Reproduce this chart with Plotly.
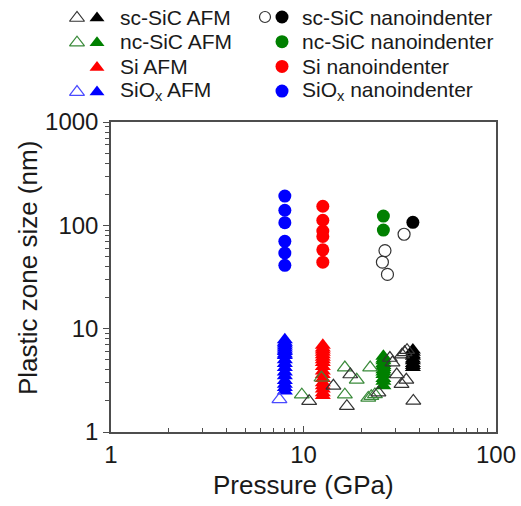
import plotly.graph_objects as go

# ---------------- data (Pressure in GPa, plastic zone size in nm) ----------------
# nanoindenter (circles)
sc_nano_open_x = [33.3, 26.5, 25.7, 27.3]
sc_nano_open_y = [82, 57, 44, 33.5]
sc_nano_fill_x = [37.0]
sc_nano_fill_y = [107]
nc_nano_x = [26.0, 26.0]
nc_nano_y = [123, 90]
si_nano_x = [12.6, 12.6, 12.6, 12.6, 12.6, 12.6]
si_nano_y = [153, 112, 88, 78, 58, 44]
siox_nano_x = [8.0, 8.0, 8.0, 8.0, 8.0, 8.0]
siox_nano_y = [192, 140, 106, 70, 54, 41]

# AFM filled triangles
siox_afm_fill_y = [7.8, 7.4, 7.1, 6.8, 6.5, 6.2, 6.0, 5.7, 5.5, 5.0, 4.6, 4.2, 3.8, 3.5, 3.15, 2.9, 2.7, 2.5]
siox_afm_fill_x = [8.0] * len(siox_afm_fill_y)
si_afm_fill_y = [6.9, 6.5, 6.2, 5.9, 5.6, 5.3, 5.0, 4.7, 4.3, 3.9, 3.6, 3.3, 3.0, 2.8, 2.6, 2.4, 2.25]
si_afm_fill_x = [12.6] * len(si_afm_fill_y)
nc_afm_fill_y = [5.4, 5.1, 4.9, 4.6, 4.4, 4.2, 4.0, 3.8, 3.6, 3.3, 3.1, 2.8]
nc_afm_fill_x = [26.0] * len(nc_afm_fill_y)
sc_afm_fill_y = [6.2, 5.9, 5.6, 5.4, 5.1, 4.9, 4.6, 4.4, 4.2]
sc_afm_fill_x = [37.0] * len(sc_afm_fill_y)

# AFM open triangles
sc_afm_open_x = [32.5, 33.5, 34.5, 10.7, 14.3, 17.5, 16.8, 24.5, 28.1, 29.0, 30.5, 32.3, 34.2, 37.2]
sc_afm_open_y = [5.6, 5.9, 6.2, 1.99, 2.8, 3.6, 1.78, 2.4, 5.2, 4.7, 3.6, 2.9, 3.2, 2.0]
nc_afm_open_x = [9.8, 16.4, 22.2, 18.9, 16.4, 21.7, 22.5, 23.5, 12.4]
nc_afm_open_y = [2.3, 4.2, 4.2, 3.2, 2.3, 2.14, 2.22, 2.31, 3.35]
siox_afm_open_x = [7.5]
siox_afm_open_y = [2.07]

# axis ticks
x_tickvals = [1, 10, 100]
x_ticktext = ["1", "10", "100"]
y_tickvals = [1, 10, 100, 1000]
y_ticktext = ["1", "10", "100", "1000"]
x_minor = [m * d for d in [1, 10] for m in range(2, 10)]
y_minor = [m * d for d in [1, 10, 100] for m in range(2, 10)]

# legend labels
legend_left = ["sc-SiC AFM", "nc-SiC AFM", "Si AFM", "SiO<sub>x</sub> AFM"]
legend_right = ["sc-SiC nanoindenter", "nc-SiC nanoindenter", "Si nanoindenter",
                "SiO<sub>x</sub> nanoindenter"]

# ---------------- styling ----------------
BLACK = "#000000"
GREEN = "#008000"
RED = "#ff0000"
BLUE = "#0000ff"
OPEN_BLACK = "#333333"
OPEN_GREEN = "#3a8a3a"
OPEN_BLUE = "#4a4aff"
AXC = "#4d4d4d"
TXT = "#1a1a1a"
FONT = "Arial, Liberation Sans, sans-serif"

TRI = 14
CIR = 13

fig = go.Figure()


def add(x, y, symbol, color, size, lw=0, xa="x", ya="y"):
    fig.add_trace(go.Scatter(
        x=x, y=y, mode="markers", xaxis=xa, yaxis=ya, showlegend=False,
        cliponaxis=False, hoverinfo="skip",
        marker=dict(symbol=symbol, size=size, color=color,
                    line=dict(color=color, width=lw))))


# nanoindenter circles
add(siox_nano_x, siox_nano_y, "circle", BLUE, CIR)
add(si_nano_x, si_nano_y, "circle", RED, CIR)
add(nc_nano_x, nc_nano_y, "circle", GREEN, CIR)
add(sc_nano_fill_x, sc_nano_fill_y, "circle", BLACK, CIR)
add(sc_nano_open_x, sc_nano_open_y, "circle-open", OPEN_BLACK, 12, 1.2)

# filled triangles
add(siox_afm_fill_x, siox_afm_fill_y, "triangle-up", BLUE, TRI)
add(si_afm_fill_x, si_afm_fill_y, "triangle-up", RED, TRI)
add(nc_afm_fill_x, nc_afm_fill_y, "triangle-up", GREEN, TRI)
add(sc_afm_fill_x, sc_afm_fill_y, "triangle-up", BLACK, TRI)

# open triangles
add(siox_afm_open_x, siox_afm_open_y, "triangle-up-open", OPEN_BLUE, 13, 1.2)
add(nc_afm_open_x, nc_afm_open_y, "triangle-up-open", OPEN_GREEN, 13, 1.2)
add(sc_afm_open_x, sc_afm_open_y, "triangle-up-open", OPEN_BLACK, 13, 1.2)

# ---------------- layout geometry ----------------
W, H = 521, 506
MR, MB = 25, 74
PW = W - MR          # inner width (left margin 0)
PH = H - MB          # inner height (top margin 0)
plot_left_px = 111
plot_top_px = 122
main_x_dom0 = plot_left_px / PW
main_y_dom1 = (PH - plot_top_px) / PH

# ---------------- custom legend (hidden pixel-unit overlay axes) ----------------
row_y = [17 + 24.7 * i for i in range(4)]
col_open_tri, col_fill_tri, col_text_l = 77, 97, 118
col_open_cir, col_fill_cir, col_text_r = 265, 282, 300

leg_open_tri = [(0, OPEN_BLACK), (1, OPEN_GREEN), (3, OPEN_BLUE)]
leg_fill_tri = [BLACK, GREEN, RED, BLUE]
leg_fill_cir = [BLACK, GREEN, RED, BLUE]

for i, c in leg_open_tri:
    add([col_open_tri], [row_y[i] + 1], "triangle-up-open", c, 13, 1.2, "x2", "y2")
for i, c in enumerate(leg_fill_tri):
    add([col_fill_tri], [row_y[i] + 1], "triangle-up", c, 13, 0, "x2", "y2")
add([col_open_cir], [row_y[0]], "circle-open", OPEN_BLACK, 11, 1.2, "x2", "y2")
for i, c in enumerate(leg_fill_cir):
    add([col_fill_cir], [row_y[i]], "circle", c, 13, 0, "x2", "y2")

annotations = []
for i, t in enumerate(legend_left):
    annotations.append(dict(x=col_text_l, y=row_y[i], xref="x2", yref="y2", text=t,
                            showarrow=False, xanchor="left", yanchor="middle",
                            font=dict(size=21, color=TXT, family=FONT)))
for i, t in enumerate(legend_right):
    annotations.append(dict(x=col_text_r, y=row_y[i], xref="x2", yref="y2", text=t,
                            showarrow=False, xanchor="left", yanchor="middle",
                            font=dict(size=21, color=TXT, family=FONT)))

# axis titles
annotations.append(dict(x=(plot_left_px + PW) / 2 / PW, y=(PH - 485) / PH,
                        xref="paper", yref="paper",
                        text="Pressure (GPa)", showarrow=False, xanchor="center",
                        yanchor="middle", font=dict(size=26, color=TXT, family=FONT)))
annotations.append(dict(x=28 / PW, y=(PH - 268) / PH, xref="paper",
                        yref="paper", text="Plastic zone size (nm)", showarrow=False,
                        textangle=-90, xanchor="center", yanchor="middle",
                        font=dict(size=26, color=TXT, family=FONT)))

fig.update_layout(
    width=W, height=H,
    margin=dict(l=0, r=MR, t=0, b=MB, pad=0, autoexpand=False),
    paper_bgcolor="white", plot_bgcolor="white",
    font=dict(family=FONT, color=TXT),
    annotations=annotations,
    xaxis=dict(type="log", range=[0, 2], domain=[main_x_dom0, 1], anchor="y",
               showline=True, linecolor=AXC, linewidth=1.5, mirror=True,
               showgrid=False, zeroline=False, automargin=False,
               ticks="inside", ticklen=6, tickwidth=1.2, tickcolor=AXC,
               tickvals=x_tickvals, ticktext=x_ticktext,
               tickfont=dict(size=24, color=TXT, family=FONT),
               minor=dict(tickvals=x_minor, ticks="inside", ticklen=4,
                          tickwidth=1.0, tickcolor=AXC, showgrid=False)),
    yaxis=dict(type="log", range=[0, 3], domain=[0, main_y_dom1], anchor="x",
               showline=True, linecolor=AXC, linewidth=1.5, mirror=True,
               showgrid=False, zeroline=False, automargin=False,
               ticks="outside", ticklen=6, tickwidth=1.2, tickcolor=AXC,
               tickvals=y_tickvals, ticktext=y_ticktext,
               tickfont=dict(size=24, color=TXT, family=FONT),
               minor=dict(tickvals=y_minor, ticks="outside", ticklen=4,
                          tickwidth=1.0, tickcolor=AXC, showgrid=False)),
    xaxis2=dict(range=[0, PW], domain=[0, 1], anchor="y2", visible=False,
                fixedrange=True),
    yaxis2=dict(range=[plot_top_px, 0], domain=[main_y_dom1, 1], anchor="x2",
                visible=False, fixedrange=True),
)

fig.write_html("out.html")
